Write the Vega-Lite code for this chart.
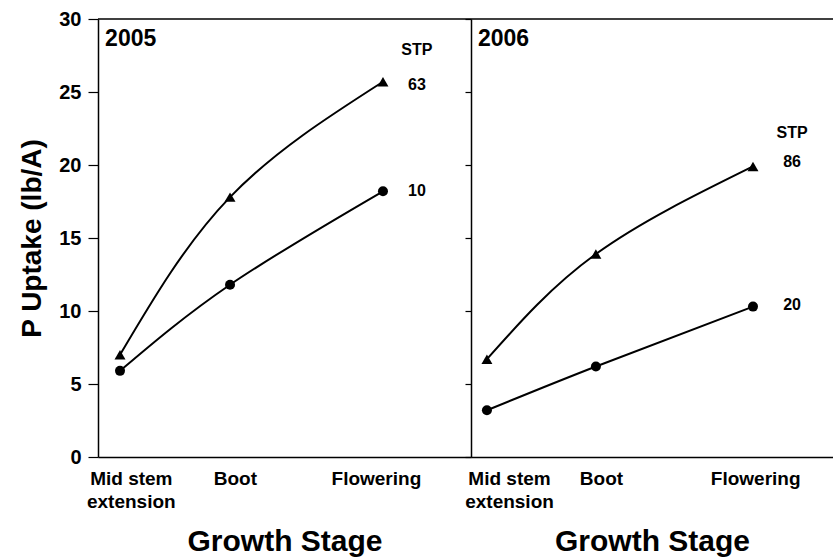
{
  "$schema": "https://vega.github.io/schema/vega-lite/v6.json",
  "background": "white",
  "padding": {"left": 18, "top": 9, "right": 0, "bottom": 4},
  "bounds": "flush",
  "spacing": 0,
  "config": {
    "view": {"stroke": null},
    "font": "Liberation Sans",
    "axis": {
      "grid": false,
      "domainColor": "black",
      "domainWidth": 1.5,
      "tickColor": "black",
      "tickWidth": 1.2,
      "labelColor": "black",
      "titleColor": "black",
      "labelFont": "Liberation Sans",
      "titleFont": "Liberation Sans"
    }
  },
  "datasets": {
    "uptake": [
      {"year": "2005", "stp": "63", "level": "high", "stage": "Mid stem extension", "x": 0.59, "y": 7.0},
      {"year": "2005", "stp": "63", "level": "high", "stage": "Boot", "x": 3.54, "y": 17.8},
      {"year": "2005", "stp": "63", "level": "high", "stage": "Flowering", "x": 7.64, "y": 25.7},
      {"year": "2005", "stp": "10", "level": "low", "stage": "Mid stem extension", "x": 0.59, "y": 5.9},
      {"year": "2005", "stp": "10", "level": "low", "stage": "Boot", "x": 3.54, "y": 11.8},
      {"year": "2005", "stp": "10", "level": "low", "stage": "Flowering", "x": 7.64, "y": 18.2},
      {"year": "2006", "stp": "86", "level": "high", "stage": "Mid stem extension", "x": 0.44, "y": 6.7},
      {"year": "2006", "stp": "86", "level": "high", "stage": "Boot", "x": 3.45, "y": 13.9},
      {"year": "2006", "stp": "86", "level": "high", "stage": "Flowering", "x": 7.79, "y": 19.9},
      {"year": "2006", "stp": "20", "level": "low", "stage": "Mid stem extension", "x": 0.44, "y": 3.2},
      {"year": "2006", "stp": "20", "level": "low", "stage": "Boot", "x": 3.45, "y": 6.2},
      {"year": "2006", "stp": "20", "level": "low", "stage": "Flowering", "x": 7.79, "y": 10.3}
    ],
    "notes": [
      {"year": "2005", "label": "STP", "kind": "stp", "x": 8.55, "y": 27.9},
      {"year": "2005", "label": "63", "kind": "stp", "x": 8.55, "y": 25.5},
      {"year": "2005", "label": "10", "kind": "stp", "x": 8.55, "y": 18.2},
      {"year": "2006", "label": "STP", "kind": "stp", "x": 8.87, "y": 22.2},
      {"year": "2006", "label": "86", "kind": "stp", "x": 8.87, "y": 20.2},
      {"year": "2006", "label": "20", "kind": "stp", "x": 8.87, "y": 10.4},
      {"year": "2005", "label": "2005", "kind": "year", "x": 0.19, "y": 28.6},
      {"year": "2006", "label": "2006", "kind": "year", "x": 0.19, "y": 28.6}
    ]
  },
  "hconcat": [
    {
      "width": 373,
      "height": 438,
      "layer": [
        {
          "data": {"values": [{}]},
          "mark": {"type": "rule", "color": "black", "strokeWidth": 1.5},
          "encoding": {"y": {"datum": 30, "type": "quantitative", "scale": {"domain": [0, 30]}}}
        },
        {
          "data": {"name": "uptake"},
          "transform": [{"filter": "datum.year == '2005'"}],
          "encoding": {
            "x": {
              "field": "x", "type": "quantitative",
              "scale": {"domain": [0, 10]},
              "axis": {
                "values": [0.88, 3.67, 7.45],
                "labelExpr": "datum.value < 2 ? ['Mid stem', 'extension'] : datum.value < 5 ? 'Boot' : 'Flowering'",
                "ticks": false,
                "labelFontSize": 19,
                "labelFontWeight": "bold",
                "labelPadding": 12,
                "labelLineHeight": 23,
                "title": "Growth Stage",
                "titleFontSize": 30,
                "titleFontWeight": "bold",
                "titlePadding": 15
              }
            },
            "y": {
              "field": "y", "type": "quantitative",
              "scale": {"domain": [0, 30]},
              "axis": {
                "values": [0, 5, 10, 15, 20, 25, 30],
                "title": "P Uptake (lb/A)",
                "titleFontSize": 28,
                "titleFontWeight": "bold",
                "titlePadding": 12,
                "labelFontSize": 20,
                "labelFontWeight": "bold",
                "tickSize": 10,
                "labelPadding": 7
              }
            }
          },
          "layer": [
            {
              "mark": {"type": "line", "interpolate": "natural", "color": "black", "strokeWidth": 2},
              "encoding": {"detail": {"field": "stp"}}
            },
            {
              "mark": {"type": "point", "filled": true, "color": "black", "opacity": 1},
              "encoding": {
                "shape": {"field": "level", "scale": {"domain": ["high", "low"], "range": ["triangle-up", "circle"]}, "legend": null},
                "size": {"field": "level", "scale": {"domain": ["high", "low"], "range": [120, 100]}, "legend": null}
              }
            }
          ]
        },
        {
          "data": {"name": "notes"},
          "transform": [{"filter": "datum.year == '2005' && datum.kind == 'stp'"}],
          "mark": {"type": "text", "font": "Liberation Sans", "fontWeight": "bold", "fontSize": 16, "color": "black", "align": "center", "baseline": "middle"},
          "encoding": {
            "x": {"field": "x", "type": "quantitative"},
            "y": {"field": "y", "type": "quantitative"},
            "text": {"field": "label"}
          }
        },
        {
          "data": {"name": "notes"},
          "transform": [{"filter": "datum.year == '2005' && datum.kind == 'year'"}],
          "mark": {"type": "text", "font": "Liberation Sans", "fontWeight": "bold", "fontSize": 23, "color": "black", "align": "left", "baseline": "middle"},
          "encoding": {
            "x": {"field": "x", "type": "quantitative"},
            "y": {"field": "y", "type": "quantitative"},
            "text": {"field": "label"}
          }
        }
      ]
    },
    {
      "width": 362,
      "height": 438,
      "layer": [
        {
          "data": {"values": [{}]},
          "mark": {"type": "rule", "color": "black", "strokeWidth": 1.5},
          "encoding": {"y": {"datum": 30, "type": "quantitative", "scale": {"domain": [0, 30]}}}
        },
        {
          "data": {"name": "uptake"},
          "transform": [{"filter": "datum.year == '2006'"}],
          "encoding": {
            "x": {
              "field": "x", "type": "quantitative",
              "scale": {"domain": [0, 10]},
              "axis": {
                "values": [1.05, 3.59, 7.85],
                "labelExpr": "datum.value < 2 ? ['Mid stem', 'extension'] : datum.value < 5 ? 'Boot' : 'Flowering'",
                "ticks": false,
                "labelFontSize": 19,
                "labelFontWeight": "bold",
                "labelPadding": 12,
                "labelLineHeight": 23,
                "title": "Growth Stage",
                "titleFontSize": 30,
                "titleFontWeight": "bold",
                "titlePadding": 15
              }
            },
            "y": {
              "field": "y", "type": "quantitative",
              "scale": {"domain": [0, 30]},
              "axis": {
                "values": [0, 5, 10, 15, 20, 25, 30],
                "labels": false,
                "title": "",
                "tickSize": 6
              }
            }
          },
          "layer": [
            {
              "mark": {"type": "line", "interpolate": "natural", "color": "black", "strokeWidth": 2},
              "encoding": {"detail": {"field": "stp"}}
            },
            {
              "mark": {"type": "point", "filled": true, "color": "black", "opacity": 1},
              "encoding": {
                "shape": {"field": "level", "scale": {"domain": ["high", "low"], "range": ["triangle-up", "circle"]}, "legend": null},
                "size": {"field": "level", "scale": {"domain": ["high", "low"], "range": [120, 100]}, "legend": null}
              }
            }
          ]
        },
        {
          "data": {"name": "notes"},
          "transform": [{"filter": "datum.year == '2006' && datum.kind == 'stp'"}],
          "mark": {"type": "text", "font": "Liberation Sans", "fontWeight": "bold", "fontSize": 16, "color": "black", "align": "center", "baseline": "middle"},
          "encoding": {
            "x": {"field": "x", "type": "quantitative"},
            "y": {"field": "y", "type": "quantitative"},
            "text": {"field": "label"}
          }
        },
        {
          "data": {"name": "notes"},
          "transform": [{"filter": "datum.year == '2006' && datum.kind == 'year'"}],
          "mark": {"type": "text", "font": "Liberation Sans", "fontWeight": "bold", "fontSize": 23, "color": "black", "align": "left", "baseline": "middle"},
          "encoding": {
            "x": {"field": "x", "type": "quantitative"},
            "y": {"field": "y", "type": "quantitative"},
            "text": {"field": "label"}
          }
        }
      ]
    }
  ]
}
